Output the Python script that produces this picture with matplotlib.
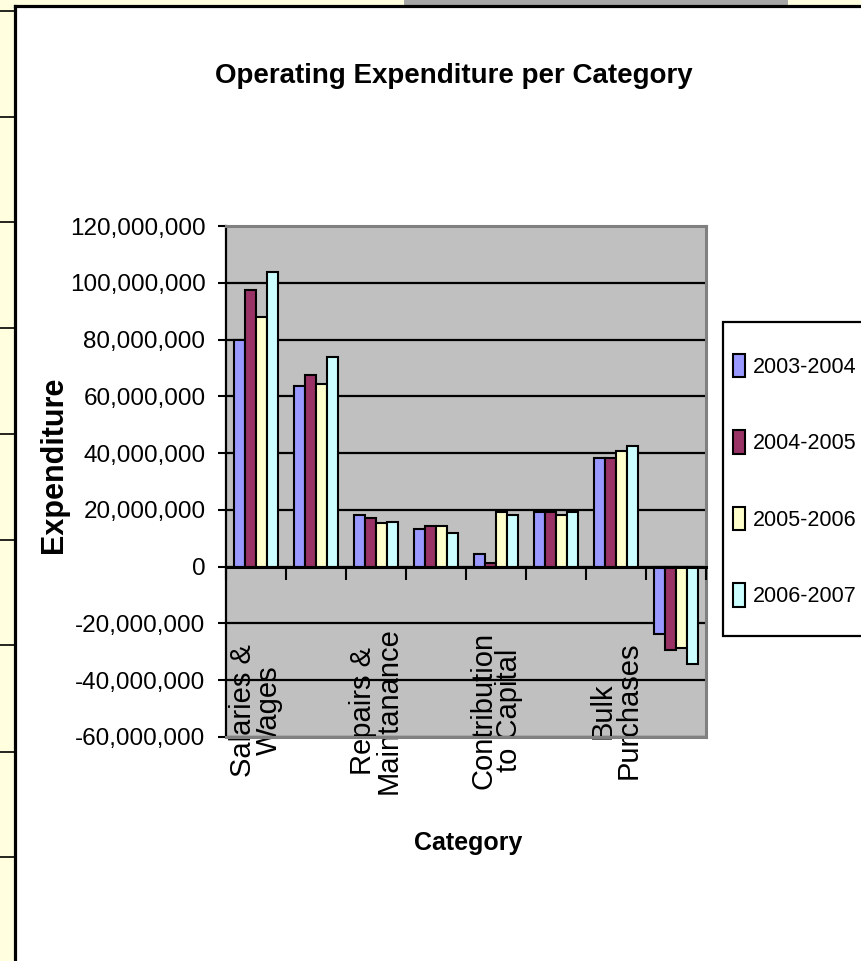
import numpy as np
import matplotlib
matplotlib.use("Agg")
import matplotlib.pyplot as plt
from matplotlib.patches import Rectangle
from matplotlib.lines import Line2D
from matplotlib.ticker import FuncFormatter, MultipleLocator

# categories as wrapped by the spreadsheet; the odd ones have no visible label
categories = ["Salaries &\nWages", "", "Repairs &\nMaintanance", "",
              "Contribution\nto Capital", "", "Bulk\nPurchases", ""]
years = ["2003-2004", "2004-2005", "2005-2006", "2006-2007"]
exp_0304 = [79_800_000, 63_500_000, 18_200_000, 13_200_000, 4_400_000, 19_400_000, 38_400_000, -23_800_000]
exp_0405 = [97_500_000, 67_400_000, 17_000_000, 14_500_000, 1_200_000, 19_400_000, 38_400_000, -29_200_000]
exp_0506 = [88_100_000, 64_500_000, 15_400_000, 14_500_000, 19_200_000, 18_300_000, 40_600_000, -28_500_000]
exp_0607 = [103_700_000, 73_900_000, 15_700_000, 12_000_000, 18_200_000, 19_400_000, 42_500_000, -34_300_000]
series = [exp_0304, exp_0405, exp_0506, exp_0607]
colors = ["#9999FF", "#993366", "#FFFFCC", "#CCFFFF"]

W, H = 861, 961
font = ["Liberation Sans", "DejaVu Sans"]
plt.rcParams["font.family"] = font

fig = plt.figure(figsize=(W / 100, H / 100), dpi=100)
fig.patch.set_facecolor("white")


def fx(px):
    return px / W


def fy(py):
    return 1 - py / H


# spreadsheet bits around the chart object
fig.add_artist(Rectangle((0, 0), fx(15), 1, transform=fig.transFigure,
                         facecolor="#FFFFE0", edgecolor="none", zorder=-2))
fig.add_artist(Rectangle((0, fy(6)), 1, 6 / H, transform=fig.transFigure,
                         facecolor="#FFFFE0", edgecolor="none", zorder=-2))
fig.add_artist(Rectangle((fx(404), fy(6)), fx(384), 6 / H, transform=fig.transFigure,
                         facecolor="#A6A6A6", edgecolor="none", zorder=-2))
row_lines = [11, 117, 222, 328, 434, 540, 645, 752, 857]
for r in row_lines:
    fig.add_artist(Line2D([0, fx(15)], [fy(r), fy(r)], transform=fig.transFigure,
                          color="black", lw=1.2, zorder=-1))
fig.add_artist(Line2D([fx(15), fx(15)], [0, fy(6)], transform=fig.transFigure,
                      color="black", lw=2.3, zorder=-1))
fig.add_artist(Line2D([fx(15), 1], [fy(6), fy(6)], transform=fig.transFigure,
                      color="black", lw=2.3, zorder=-1))

ax = fig.add_axes([fx(226), fy(737), fx(480), 511 / H])
ax.set_facecolor("#C0C0C0")

x = np.arange(len(categories))
w = 1 / 5.5
handles = []
for i, (vals, c) in enumerate(zip(series, colors)):
    b = ax.bar(x + (i - 1.5) * w, vals, width=w, color=c, edgecolor="black",
               linewidth=1.5, label=years[i], zorder=2)
    handles.append(b)

ax.set_xlim(-0.5, len(categories) - 0.5)
ax.set_ylim(-60_000_000, 120_000_000)
ax.yaxis.set_major_locator(MultipleLocator(20_000_000))
ax.yaxis.set_major_formatter(FuncFormatter(lambda v, p: f"{v:,.0f}"))
ax.set_axisbelow(True)
ax.yaxis.grid(True, color="black", linewidth=1.6)
ax.tick_params(axis="y", direction="out", length=5.8, width=1.5, pad=9,
               labelsize=17.5)

ax.set_xticks(x, categories, rotation=90, fontsize=21,
              linespacing=0.9, va="center", ha="center", multialignment="center")
ax.tick_params(axis="x", length=0, pad=-19)

for s in ["top", "right", "bottom"]:
    ax.spines[s].set_color("#808080")
    ax.spines[s].set_linewidth(2.2)
ax.spines["left"].set_color("black")
ax.spines["left"].set_linewidth(1.6)

# category axis crossing at zero with ticks between categories
sec = ax.secondary_xaxis(0, transform=ax.transData)
sec.set_xticks(np.arange(-0.5, len(categories), 1.0))
sec.tick_params(direction="out", length=9.5, width=1.5, labelbottom=False, labeltop=False)
for s in ["top", "bottom"]:
    sec.spines[s].set_linewidth(2.2)
sec.set_zorder(3)

ax.set_ylabel("Expenditure", fontsize=22, fontweight="bold")
ax.yaxis.label.set_va("center")
ax.yaxis.set_label_coords((54 - 226) / 480, (737 - 465) / 511)
ax.set_xlabel("Category", fontsize=18, fontweight="bold", va="center")
ax.xaxis.set_label_coords((468 - 226) / 480, (737 - 843) / 511)

fig.text(fx(454), fy(76), "Operating Expenditure per Category", ha="center",
         va="center", fontsize=20, fontweight="bold")

# legend box runs off the right edge of the picture, as in the sheet
fig.add_artist(Rectangle((fx(723), fy(636)), fx(160), 314 / H, transform=fig.transFigure,
                         facecolor="white", edgecolor="black", linewidth=1.6, zorder=4))
fig.legend(handles, years, loc="upper left", bbox_to_anchor=(fx(723), fy(344)),
           bbox_transform=fig.transFigure, borderaxespad=0, frameon=False,
           borderpad=0.45, labelspacing=2.44, handlelength=0.56, handleheight=1.3,
           handletextpad=0.37, prop={"size": 15.5})

fig.savefig("out.png", dpi=100, facecolor=fig.get_facecolor())
